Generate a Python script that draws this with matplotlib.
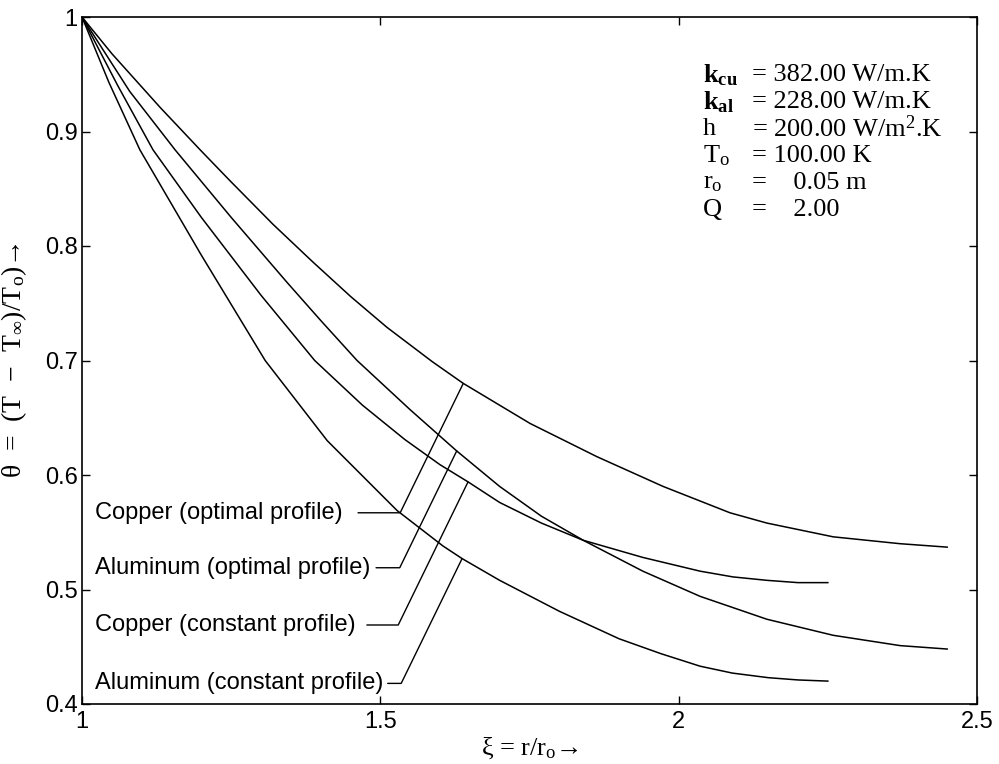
import numpy as np
import matplotlib
matplotlib.use("Agg")
import matplotlib.pyplot as plt
from matplotlib.ticker import FuncFormatter

plt.rcParams['font.family'] = ['Liberation Sans', 'DejaVu Sans']
plt.rcParams['mathtext.fontset'] = 'custom'
plt.rcParams['mathtext.rm'] = 'Liberation Serif'
plt.rcParams['mathtext.it'] = 'Liberation Serif:italic'
plt.rcParams['mathtext.bf'] = 'Liberation Serif:bold'

# Curves: xi = r/ro, theta = (T - Tinf)/To
xi_cu_opt = [1.0, 1.05, 1.131, 1.198, 1.248, 1.32, 1.387, 1.45, 1.511, 1.587,
             1.639, 1.751, 1.863, 1.974, 2.086, 2.148, 2.259, 2.371, 2.45]
th_cu_opt = [1.0, 0.968, 0.921, 0.884, 0.857, 0.819, 0.786, 0.756, 0.729, 0.699,
             0.680, 0.645, 0.616, 0.590, 0.567, 0.558, 0.546, 0.540, 0.537]

xi_al_opt = [1.0, 1.08, 1.156, 1.25, 1.344, 1.40, 1.461, 1.55, 1.628, 1.70,
             1.77, 1.84, 1.94, 2.036, 2.148, 2.259, 2.371, 2.45]
th_al_opt = [1.0, 0.935, 0.884, 0.825, 0.768, 0.735, 0.700, 0.657, 0.621, 0.590,
             0.564, 0.543, 0.516, 0.494, 0.474, 0.460, 0.451, 0.448]

xi_cu_con = [1.0, 1.06, 1.119, 1.2, 1.3, 1.39, 1.47, 1.541, 1.6, 1.647, 1.70,
             1.77, 1.84, 1.94, 2.036, 2.091, 2.148, 2.2, 2.25]
th_cu_con = [1.0, 0.940, 0.884, 0.825, 0.757, 0.700, 0.661, 0.631, 0.609, 0.594, 0.576,
             0.558, 0.543, 0.528, 0.516, 0.511, 0.508, 0.506, 0.506]

xi_al_con = [1.0, 1.045, 1.097, 1.2, 1.307, 1.411, 1.528, 1.605, 1.637, 1.70,
             1.80, 1.90, 1.97, 2.036, 2.09, 2.15, 2.2, 2.25]
th_al_con = [1.0, 0.943, 0.884, 0.792, 0.700, 0.630, 0.569, 0.538, 0.527, 0.508,
             0.481, 0.457, 0.444, 0.433, 0.427, 0.423, 0.421, 0.420]

curves = [(xi_cu_opt, th_cu_opt), (xi_al_opt, th_al_opt),
          (xi_cu_con, th_cu_con), (xi_al_con, th_al_con)]

# curve labels, the height of their text and the xi where the leader meets the curve
labels = ["Copper (optimal profile)", "Aluminum (optimal profile)",
          "Copper (constant profile)", "Aluminum (constant profile)"]
label_theta = [0.567, 0.519, 0.469, 0.418]
leader_xi = [1.639, 1.628, 1.647, 1.637]
leader_gap = [9, 2, 6, 1]

# parameter block
par_names = [r"$\mathbf{k_{cu}}$", r"$\mathbf{k_{al}}$", "h", r"T$_\mathrm{o}$",
             r"r$_\mathrm{o}$", "Q"]
par_values = ["= 382.00 W/m.K", "= 228.00 W/m.K", r"= 200.00 W/m$^\mathrm{2}$.K",
              "= 100.00 K", "=    0.05 m", "=    2.00"]

fig = plt.figure(figsize=(9.99, 7.64), dpi=100)
ax = fig.add_axes([82 / 999, 60 / 764, 895 / 999, 687 / 764])

for xs, ys in curves:
    ax.plot(xs, ys, color='black', lw=1.1)

ax.set_xlim(1, 2.5)
ax.set_ylim(0.4, 1.0)
ax.set_xticks([1, 1.5, 2, 2.5])
ax.set_yticks([0.4, 0.5, 0.6, 0.7, 0.8, 0.9, 1.0])
fmt = FuncFormatter(lambda v, p: "%g" % v)
ax.xaxis.set_major_formatter(fmt)
ax.yaxis.set_major_formatter(fmt)
ax.tick_params(direction='in', top=True, right=True, length=6, width=1,
               labelsize=17)
ax.tick_params(axis='x', pad=5)
ax.tick_params(axis='y', pad=3)
for s in ax.spines.values():
    s.set_linewidth(1.2)

for i, (xs, ys) in enumerate(curves):
    tx = leader_xi[i]
    ty = np.interp(tx, xs, ys)
    ax.annotate(labels[i], xy=(tx, ty), xytext=(1.022, label_theta[i]),
                fontsize=17, va='center', ha='left',
                arrowprops=dict(arrowstyle='-', lw=1.0, shrinkA=leader_gap[i], shrinkB=0,
                                connectionstyle='angle,angleA=0,angleB=64,rad=0'))

for i in range(len(par_names)):
    y = 0.9156 - i * 0.0393
    ax.text(0.6939, y, par_names[i], transform=ax.transAxes, fontsize=19,
            family='Liberation Serif', va='center', ha='left')
    ax.text(0.7486, y, par_values[i], transform=ax.transAxes, fontsize=19,
            family='Liberation Serif', va='center', ha='left')

serif = ['Liberation Serif', 'DejaVu Serif']
ax.set_xlabel(r"ξ = r/r$_\mathrm{o}$→", fontsize=19, family=serif, va='center')
ax.xaxis.set_label_coords(0.5, -0.064)
ax.set_ylabel(r"θ  =  (T  −  T$_\infty$)/T$_\mathrm{o}$)→", fontsize=20,
              family=serif, va='center')
ax.yaxis.set_label_coords(-0.076, 0.5)

fig.savefig("out.png", dpi=100)
